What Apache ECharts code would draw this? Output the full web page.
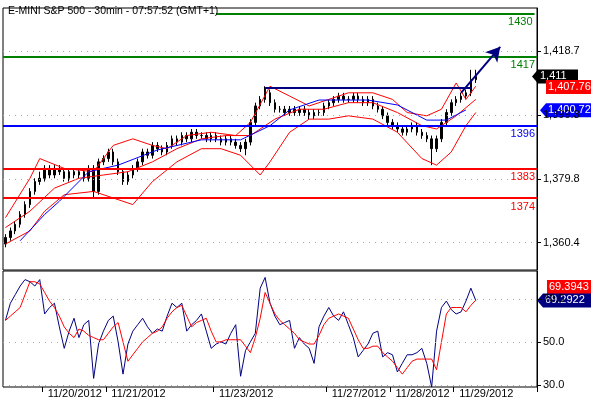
<!DOCTYPE html>
<html><head><meta charset="utf-8">
<script src="https://cdn.jsdelivr.net/npm/echarts@6/dist/echarts.min.js"></script>
<style>html,body{margin:0;padding:0;background:#fff}#c{width:591px;height:400px}</style>
</head><body><div id="c"></div>
<script>
const title = 'E-MINI S&P 500 - 30min - 07:57:52 (GMT+1)';
const dateTicks = {8:'11/20/2012',21:'11/21/2012',43:'11/23/2012',66:'11/27/2012',79:'11/28/2012',92:'11/29/2012'};
const opens=[1360,1362,1364,1366,1369,1372,1376,1379,1380,1383,1381,1383,1382,1380,1382,1381,1382,1380,1383,1376,1385,1386,1388,1385,1382,1379,1381,1383,1385,1388,1387,1390,1389,1388,1390,1392,1391,1393,1392,1394,1393,1393,1392,1393,1392,1391,1392,1391,1390,1389,1391,1397,1402,1404,1406,1403,1401,1401,1400,1401,1400,1401,1400,1399,1400,1400,1402,1403,1404,1405,1404,1404,1405,1404,1403,1404,1402,1401,1399,1397,1396,1395,1394,1395,1396,1394,1393,1392,1389,1392,1397,1400,1403,1404,1405,1406,1410];
const closes=[1362,1364,1366,1369,1372,1376,1379,1380,1383,1381,1383,1382,1380,1382,1381,1382,1380,1383,1376,1385,1386,1388,1385,1382,1379,1381,1383,1385,1388,1387,1390,1389,1388,1390,1392,1391,1393,1392,1394,1393,1393,1392,1393,1392,1391,1392,1391,1390,1389,1391,1397,1402,1404,1406,1403,1401,1401,1400,1401,1400,1401,1400,1399,1400,1400,1402,1403,1404,1405,1404,1404,1405,1404,1403,1404,1402,1401,1399,1397,1396,1395,1394,1395,1396,1394,1393,1392,1389,1392,1397,1400,1403,1404,1405,1406,1410,1411];
const highs=[1363,1365,1367,1370,1373,1377,1380,1382,1384,1384,1384,1384,1383,1383,1383,1383,1383,1384,1384,1386,1387,1389,1389,1386,1383,1382,1384,1386,1389,1389,1391,1391,1390,1391,1393,1393,1394,1394,1395,1395,1394,1394,1394,1394,1393,1393,1393,1392,1391,1392,1398,1403,1405,1408,1407,1404,1402,1402,1402,1402,1402,1402,1401,1401,1401,1403,1404,1405,1406,1406,1405,1406,1406,1405,1405,1405,1403,1402,1400,1398,1397,1396,1396,1397,1397,1395,1394,1393,1393,1398,1401,1404,1405,1406,1407,1413,1413];
const lows=[1359,1361,1363,1365,1368,1371,1375,1378,1379,1380,1380,1381,1379,1379,1380,1380,1379,1379,1374,1375,1384,1385,1384,1381,1378,1378,1380,1382,1384,1386,1386,1388,1387,1387,1389,1390,1390,1391,1391,1392,1392,1391,1391,1391,1390,1390,1390,1389,1388,1387,1390,1396,1401,1403,1402,1400,1400,1399,1399,1399,1399,1399,1398,1398,1399,1399,1401,1402,1403,1403,1403,1403,1403,1402,1402,1401,1400,1398,1396,1395,1394,1393,1393,1394,1393,1392,1391,1384,1388,1391,1396,1399,1402,1403,1404,1405,1409];
const bbUpper=[[0,1368],[5,1380],[7,1386],[12,1383],[18,1382],[22,1390],[26,1392],[30,1390],[33,1389],[37,1393],[42,1394],[47,1393],[50,1397],[54,1408],[58,1405],[62,1402],[66,1404],[70,1406],[75,1406],[79,1404],[82,1400],[86,1399],[89,1401],[92,1409],[94,1404],[96,1408]];
const bbMid=[[0,1365],[5,1370],[10,1377],[15,1380],[20,1381],[25,1382],[30,1385],[35,1389],[40,1392],[45,1393],[50,1393],[55,1398],[60,1401],[65,1401],[70,1403],[75,1403],[80,1400],[85,1396],[88,1395],[92,1399],[96,1404]];
const bbLower=[[0,1360],[5,1364],[8,1370],[12,1375],[18,1376],[22,1374],[26,1372],[30,1379],[35,1385],[40,1389],[44,1389],[48,1387],[52,1381],[54,1385],[58,1394],[62,1398],[66,1398],[70,1399],[75,1398],[80,1394],[85,1386],[88,1384],[91,1388],[94,1396],[96,1400]];
const maBlue=[[3,1361],[8,1369],[11,1373],[17,1382],[23,1384],[31,1388.6],[40,1391.7],[48,1391.7],[54,1396],[58,1400.8],[64,1403.8],[74,1403.8],[80,1402.3],[86,1397.7],[90,1397.7],[94,1400.8]];
const rsi=[60,68,72,76,79,78,76,79,63,66,68,57,47,55,61,52,58,60,33,49,55,60,62,50,35,49,55,58,61,57,54,56,55,62,68,66,68,55,58,60,63,55,47,49,50,49,54,58,34,46,50,54,75,80,68,62,58,59,60,47,52,49,47,40,57,62,66,62,60,64,58,52,43,46,49,54,55,43,45,44,36,40,44,44,45,47,40,29,55,66,69,65,63,64,69,75,69.3];
const rsiMa=[60,62,64,66,72,78,78,77,73,69,66,62,57,54,52,56,55,53,52,51,51,54,57,59,50,41,44,47,50,52,54,55,57,61,64,66,67,62,57,59,60,61,55,50,50,51,51,51,51,48,45,52,61,73,68,63,60,58,56,54,51,50,49,49,53,58,61,62,63,62,61,56,51,47,47,48,48,45,43,41,38,35,38,41,42,42,42,42,37,50,63,66,66,66,64,67,69.4];
const priceTicks=[1360.4,1379.8,1399.25,1418.7];
const rsiTicks=[30,50,70];
const levels=[{v:1417,c:'#008000',t:'1417'},{v:1396,c:'#0000ff',t:'1396'},{v:1383,c:'#ff0000',t:'1383'},{v:1374,c:'#ff0000',t:'1374'}];

const N=109;
const cats=Array.from({length:N},(_,i)=>String(i));
const F='Liberation Sans, Arial, sans-serif';
const fmt=v=>v.toLocaleString('en-US',{minimumFractionDigits:1,maximumFractionDigits:1});
const chart=echarts.init(document.getElementById('c'));
const lbl=(t,c)=>({show:true,formatter:t,position:'insideEndBottom',color:c,fontSize:11,fontFamily:F,distance:[2,3]});
chart.setOption({
  animation:false,
  title:{text:title,left:3,top:1,textStyle:{fontSize:10.5,fontWeight:'normal',fontFamily:F,color:'#000'}},
  grid:[{left:3,right:54,top:8,height:262,show:true,borderColor:'#000',borderWidth:1},
        {left:3,right:54,top:271,height:116,show:true,borderColor:'#000',borderWidth:1}],
  xAxis:[{type:'category',data:cats,gridIndex:0,boundaryGap:true,axisLine:{show:false},axisTick:{show:false},axisLabel:{show:false}},
         {type:'category',data:cats,gridIndex:1,boundaryGap:true,axisLine:{show:false},
          axisTick:{show:true,length:5,inside:false,interval:(i)=>dateTicks[i]!==undefined,lineStyle:{color:'#000'}},
          axisLabel:{show:true,interval:(i)=>dateTicks[i]!==undefined,formatter:(v,i)=>dateTicks[i]||'',align:'left',margin:1,color:'#000',fontSize:11,fontFamily:F,padding:[0,0,0,3]}}],
  yAxis:[{type:'value',gridIndex:0,position:'right',min:1352.1,max:1431.8,splitLine:{show:false},
          axisLine:{show:true,lineStyle:{color:'#000'}},
          axisTick:{show:true,customValues:priceTicks,length:4,lineStyle:{color:'#000'}},
          axisLabel:{customValues:priceTicks,formatter:fmt,color:'#000',fontSize:11,fontFamily:F,margin:6}},
         {type:'value',gridIndex:1,position:'right',min:29,max:83,splitLine:{show:false},
          axisLine:{show:true,lineStyle:{color:'#000'}},
          axisTick:{show:true,customValues:rsiTicks,length:4,lineStyle:{color:'#000'}},
          axisLabel:{customValues:rsiTicks,formatter:v=>v.toFixed(1),color:'#000',fontSize:11,fontFamily:F,margin:6}}],
  series:[
    {type:'candlestick',xAxisIndex:0,yAxisIndex:0,barWidth:2,
     data:opens.map((o,i)=>[o,closes[i],lows[i],highs[i]]),
     itemStyle:{color:'#000',color0:'#000',borderColor:'#000',borderColor0:'#000',borderWidth:1},
     markLine:{silent:true,symbol:'none',animation:false,data:[
       ...priceTicks.map(v=>({yAxis:v,lineStyle:{color:'#aaa',type:[1,5],width:1},label:{show:false}})),
       [{coord:[43,1430],lineStyle:{color:'#008000',width:2,type:'solid'},label:lbl('1430','#008000')},{coord:[108,1430]}],
       ...levels.map(l=>({yAxis:l.v,lineStyle:{color:l.c,width:2,type:'solid'},label:lbl(l.t,l.c)})),
       [{coord:[53,1407.5],lineStyle:{color:'#000080',width:2,type:'solid'},label:{show:false}},{coord:[95,1407.5]}],
       [{coord:[53,1407.5],lineStyle:{color:'#000080',width:1,type:'solid'},label:{show:false}},{coord:[53,1405]}]
     ]}},
    {type:'line',xAxisIndex:0,yAxisIndex:0,data:bbUpper,symbol:'none',lineStyle:{color:'#ff0000',width:1}},
    {type:'line',xAxisIndex:0,yAxisIndex:0,data:bbMid,symbol:'none',lineStyle:{color:'#ff0000',width:1}},
    {type:'line',xAxisIndex:0,yAxisIndex:0,data:bbLower,symbol:'none',lineStyle:{color:'#ff0000',width:1}},
    {type:'line',xAxisIndex:0,yAxisIndex:0,data:maBlue,symbol:'none',lineStyle:{color:'#0000ff',width:1},
     markLine:{silent:true,symbol:['none','arrow'],symbolSize:[12,14],animation:false,
      data:[[{coord:[93,1406],lineStyle:{color:'#000080',width:2,type:'solid'},label:{show:false}},{coord:[101,1420]}]]}},
    {type:'line',xAxisIndex:1,yAxisIndex:1,data:rsi,symbol:'none',lineStyle:{color:'#000080',width:1},
     markLine:{silent:true,symbol:'none',animation:false,data:rsiTicks.map(v=>({yAxis:v,lineStyle:{color:'#aaa',type:[1,5],width:1},label:{show:false}}))}},
    {type:'line',xAxisIndex:1,yAxisIndex:1,data:rsiMa,symbol:'none',lineStyle:{color:'#ff0000',width:1}}
  ]
});
function tag(yAxisIndex,val,text,bg,x,w,arrow){
  const y=chart.convertToPixel({yAxisIndex},val);
  const els=[];
  if(arrow) els.push({type:'polygon',shape:{points:[[x-6,y],[x,y-7],[x,y+7]]},style:{fill:bg}});
  els.push({type:'rect',shape:{x:x,y:y-7,width:w,height:14},style:{fill:bg}});
  els.push({type:'text',x:x+2,y:y,style:{text:text,fill:'#fff',font:'11px '+F,verticalAlign:'middle'}});
  return {type:'group',children:els};
}
chart.setOption({graphic:[
  tag(0,1411,'1,411','#000',538,40,true),
  tag(0,1407.76,'1,407.76','#ff0000',546,45,false),
  tag(0,1400.72,'1,400.72','#0000ff',546,45,true),
  tag(1,75.5,'69.3943','#ff0000',547,44,false),
  tag(1,69.3,'69.2922','#000080',543,48,true)
]});
</script></body></html>
